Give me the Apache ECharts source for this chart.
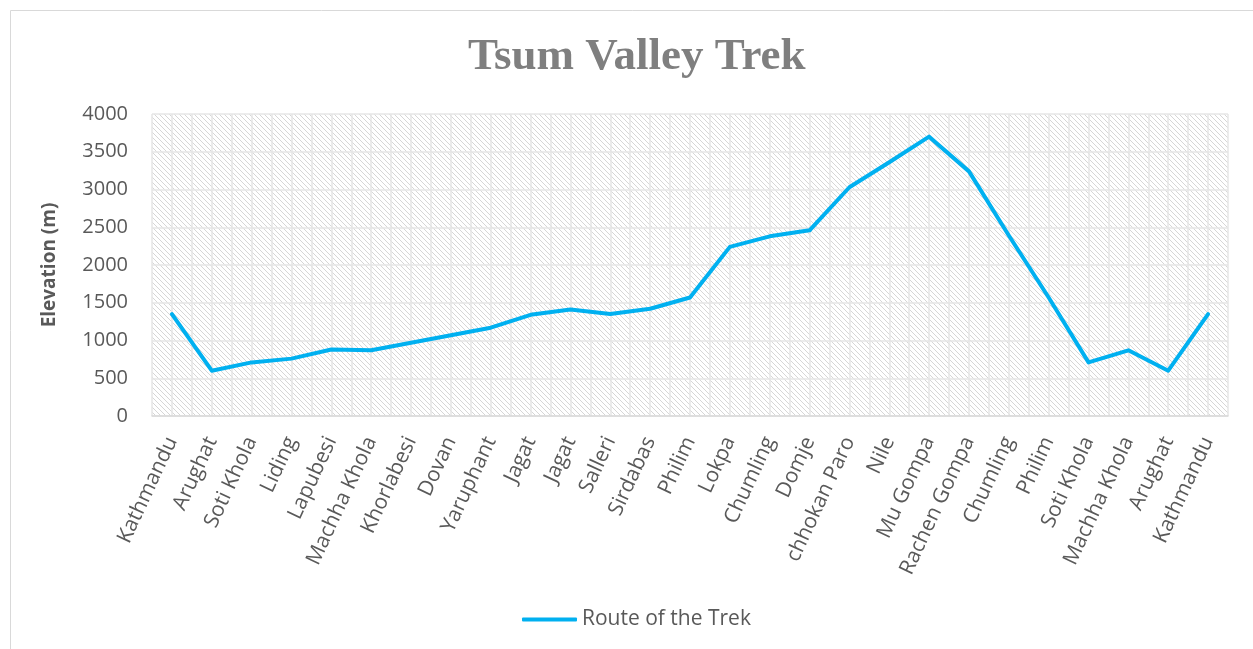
<!DOCTYPE html>
<html>
<head>
<meta charset="utf-8">
<script src="https://cdn.jsdelivr.net/npm/echarts@6/dist/echarts.min.js"></script>
<style>
  html, body { margin: 0; padding: 0; background: #fff; }
  #chart { width: 1253px; height: 649px; }
</style>
</head>
<body>
<div id="chart"></div>
<script>
// stops along the trek
const places = ['Kathmandu', 'Arughat', 'Soti Khola', 'Liding', 'Lapubesi', 'Machha Khola',
  'Khorlabesi', 'Dovan', 'Yaruphant', 'Jagat', 'Jagat', 'Salleri', 'Sirdabas', 'Philim',
  'Lokpa', 'Chumling', 'Domje', 'chhokan Paro', 'Nile', 'Mu Gompa', 'Rachen Gompa',
  'Chumling', 'Philim', 'Soti Khola', 'Machha Khola', 'Arughat', 'Kathmandu']
// elevation in metres
const elevation = [1350, 600, 710, 760, 880, 870, 970, 1070, 1170, 1340, 1410, 1350, 1420, 1570,
  2240, 2380, 2460, 3030, 3360, 3700, 3240, 2390, 1570, 710, 870, 600, 1350]
const yTicks = [0, 500, 1000, 1500, 2000, 2500, 3000, 3500, 4000]

// diagonal hatch fill like the excel pattern
function hatch () {
  const c = document.createElement('canvas')
  c.width = 5
  c.height = 5
  const ctx = c.getContext('2d')
  ctx.fillStyle = '#ffffff'
  ctx.fillRect(0, 0, 5, 5)
  ctx.strokeStyle = '#d6d6d6'
  ctx.lineWidth = 1
  ctx.beginPath()
  ctx.moveTo(-1, -1); ctx.lineTo(6, 6)
  ctx.moveTo(-6, -1); ctx.lineTo(1, 6)
  ctx.moveTo(4, -1); ctx.lineTo(11, 6)
  ctx.stroke()
  return c
}

const chart = echarts.init(document.getElementById('chart'))
const option = {
  animation: false,
  title: {
    text: 'Tsum Valley Trek',
    left: 463,
    top: 30,
    textStyle: { fontFamily: 'Liberation Serif', fontWeight: 'bold', fontSize: 45, color: '#7f7f7f' }
  },
  graphic: [{
    type: 'rect',
    shape: { x: 10.5, y: 10.5, width: 1260, height: 660 },
    style: { fill: 'none', stroke: '#d9d9d9', lineWidth: 1 },
    silent: true
  }],
  legend: {
    bottom: 14,
    left: 517,
    itemWidth: 55,
    itemHeight: 4,
    itemGap: 6,
    icon: 'roundRect',
    textStyle: { fontFamily: 'Open Sans', fontSize: 21, color: '#595959' },
    data: ['Route of the Trek']
  },
  grid: {
    left: 152, right: 25, top: 114, bottom: 233,
    show: true,
    borderWidth: 0,
    backgroundColor: { image: hatch(), repeat: 'repeat' }
  },
  xAxis: [{
    type: 'category',
    data: places,
    boundaryGap: true,
    axisLine: { lineStyle: { color: '#d9d9d9', width: 1.5 } },
    axisTick: { show: false },
    splitLine: { show: false },
    axisLabel: {
      interval: 0,
      rotate: 65,
      margin: 22,
      fontFamily: 'Open Sans',
      fontSize: 21,
      color: '#595959'
    }
  }, {
    type: 'value',
    min: 0,
    max: places.length * 2,
    interval: 1,
    show: true,
    position: 'top',
    axisLine: { show: false },
    axisTick: { show: false },
    axisLabel: { show: false },
    splitLine: { show: true, lineStyle: { color: '#e6e6e6', width: 1.5 } }
  }],
  yAxis: {
    type: 'value',
    min: yTicks[0],
    max: yTicks[yTicks.length - 1],
    interval: 500,
    name: 'Elevation (m)',
    nameLocation: 'middle',
    nameGap: 93,
    nameTextStyle: { fontFamily: 'Open Sans', fontWeight: 'bold', fontSize: 19, color: '#595959' },
    axisLine: { show: false },
    axisTick: { show: false },
    axisLabel: {
      fontFamily: 'Open Sans', fontSize: 20, color: '#595959', margin: 24,
      formatter: v => String(v)
    },
    splitLine: { lineStyle: { color: '#e6e6e6', width: 1.5 } }
  },
  series: [{
    name: 'Route of the Trek',
    type: 'line',
    data: elevation,
    xAxisIndex: 0,
    symbol: 'none',
    lineStyle: { color: '#00b0f0', width: 4, cap: 'round', join: 'round' },
    itemStyle: { color: '#00b0f0' }
  }]
}
chart.setOption(option)
</script>
</body>
</html>
